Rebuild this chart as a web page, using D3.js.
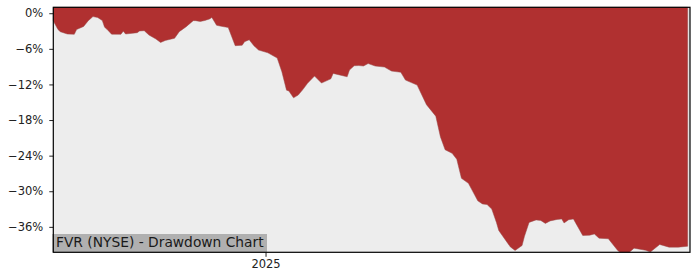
<!DOCTYPE html>
<html>
<head>
	<meta charset="utf-8">
	<title>FVR Drawdown</title>
	<script src="https://d3js.org/d3.v7.min.js"></script>
	<style>
		body { margin: 0; background: white; }
		svg { display: block; font-family: "DejaVu Sans", sans-serif; }
	</style>
</head>
<body>
	<script>
		// Drawdown readings (date, % below running peak)
		var dates = [
			"2024-10-02","2024-10-04","2024-10-05","2024-10-08","2024-10-11","2024-10-12","2024-10-15","2024-10-17",
			"2024-10-19","2024-10-21","2024-10-23","2024-10-24","2024-10-25","2024-10-27","2024-10-31","2024-11-01",
			"2024-11-02","2024-11-07","2024-11-08","2024-11-10","2024-11-12","2024-11-15","2024-11-17","2024-11-19",
			"2024-11-23","2024-11-25","2024-11-28","2024-12-01","2024-12-02","2024-12-04","2024-12-06","2024-12-08",
			"2024-12-09","2024-12-11","2024-12-13","2024-12-16","2024-12-19","2024-12-22","2024-12-23","2024-12-25",
			"2024-12-27","2024-12-29","2025-01-02","2025-01-06","2025-01-08","2025-01-10","2025-01-11","2025-01-13",
			"2025-01-15","2025-01-17","2025-01-19","2025-01-22","2025-01-25","2025-01-29","2025-01-30","2025-02-05",
			"2025-02-06","2025-02-08","2025-02-10","2025-02-12","2025-02-14","2025-02-17","2025-02-21","2025-02-24",
			"2025-02-28","2025-03-02","2025-03-07","2025-03-11","2025-03-15","2025-03-17","2025-03-19","2025-03-22",
			"2025-03-24","2025-03-26","2025-03-29","2025-04-02","2025-04-04","2025-04-06","2025-04-08","2025-04-10",
			"2025-04-11","2025-04-14","2025-04-16","2025-04-18","2025-04-21","2025-04-22","2025-04-24","2025-04-27",
			"2025-04-29","2025-05-01","2025-05-03","2025-05-06","2025-05-08","2025-05-09","2025-05-11","2025-05-13",
			"2025-05-17","2025-05-20","2025-05-22","2025-05-24","2025-05-28","2025-06-01","2025-06-02","2025-06-06",
			"2025-06-08","2025-06-13","2025-06-15","2025-06-19","2025-06-23","2025-06-27","2025-07-01"
		];
		var drawdown = [
			-1.30,-2.74,-3.11,-3.50,-3.55,-2.74,-2.23,-1.25,
			-0.57,-0.71,-1.22,-2.36,-2.70,-3.53,-3.55,-3.02,
			-3.50,-3.28,-2.99,-2.94,-3.67,-4.34,-4.93,-4.59,
			-4.22,-3.11,-2.26,-1.25,-1.25,-1.39,-1.22,-0.96,
			-0.71,-2.03,-2.20,-2.40,-5.47,-5.39,-4.80,-4.48,
			-5.47,-6.20,-6.67,-7.55,-9.86,-12.96,-13.10,-14.26,
			-13.80,-12.87,-11.82,-10.59,-11.77,-11.06,-10.14,-10.71,
			-9.58,-8.85,-8.82,-8.90,-8.48,-8.90,-9.07,-9.75,
			-9.95,-11.27,-12.11,-15.41,-17.35,-20.84,-23.01,-23.60,
			-24.61,-27.82,-28.67,-31.62,-32.13,-32.25,-33.01,-35.25,
			-36.61,-38.29,-39.39,-39.98,-39.14,-37.62,-35.25,-34.83,
			-34.92,-35.42,-35.00,-34.75,-34.66,-35.34,-34.80,-34.66,
			-37.45,-37.40,-37.20,-37.91,-38.01,-39.98,-40.29,-40.29,
			-39.59,-39.95,-40.24,-38.97,-39.42,-39.42,-39.27
		];
		var yTicks = [0, -6, -12, -18, -24, -30, -36];
		var xTicks = ["2025-01-01"];
		var xDomain = ["2024-10-02", "2025-07-02"];
		var title = "FVR (NYSE) - Drawdown Chart";

		var width = 700, height = 280;
		var mLeft = 53.3, mRight = 690, mTop = 7.3, mBottom = 252.3;

		var parse = d3.timeParse("%Y-%m-%d");
		var data = dates.map(function(d, i) { return { date: parse(d), dd: drawdown[i] }; });

		var svg = d3.select("body").append("svg")
			.attr("width", width)
			.attr("height", height);

		var x = d3.scaleTime()
			.domain(xDomain.map(parse))
			.range([mLeft, mRight]);

		var y = d3.scaleLinear()
			.domain([d3.min(drawdown), 1])
			.range([mBottom, mTop]);

		// plot background
		svg.append("rect")
			.attr("x", mLeft).attr("y", mTop)
			.attr("width", mRight - mLeft).attr("height", mBottom - mTop)
			.attr("fill", "#ededed");

		// red area from the top of the plot down to the drawdown curve
		var area = d3.area()
			.x(function(d) { return x(d.date); })
			.y0(y(1))
			.y1(function(d) { return y(d.dd); });

		svg.append("path")
			.datum(data)
			.attr("d", area)
			.attr("fill", "#b03030")
			.attr("stroke", "#9a4a4a")
			.attr("stroke-width", 0.5);

		// axes
		var yAxis = d3.axisLeft(y)
			.tickValues(yTicks)
			.tickFormat(function(d) { return (d < 0 ? "\u2212" + (-d) : d) + "%"; })
			.tickSize(4)
			.tickPadding(6);

		var xAxis = d3.axisBottom(x)
			.tickValues(xTicks.map(parse))
			.tickFormat(d3.timeFormat("%Y"))
			.tickSize(4.5)
			.tickPadding(3);

		var gy = svg.append("g")
			.attr("transform", "translate(" + mLeft + ",0)")
			.call(yAxis);
		var gx = svg.append("g")
			.attr("transform", "translate(0," + mBottom + ")")
			.call(xAxis);

		[gx, gy].forEach(function(g) {
			g.select(".domain").remove();
			g.selectAll("text")
				.attr("fill", "#222")
				.style("font-family", "DejaVu Sans")
				.style("font-size", "11.5px");
			g.selectAll("line").attr("stroke", "#222");
		});

		// title box in the lower-left corner
		var tb = svg.append("g");
		tb.append("rect")
			.attr("x", mLeft - 1)
			.attr("y", 234)
			.attr("width", 267 - mLeft + 1)
			.attr("height", mBottom - 234)
			.attr("fill", "#b0b0b0");
		tb.append("text")
			.attr("x", 56)
			.attr("y", 246.8)
			.attr("fill", "#1a1a1a")
			.style("font-size", "13.8px")
			.text(title);

		// frame
		svg.append("rect")
			.attr("x", mLeft).attr("y", mTop)
			.attr("width", mRight - mLeft).attr("height", mBottom - mTop)
			.attr("fill", "none")
			.attr("stroke", "#000")
			.attr("stroke-width", 1.2);
	</script>
</body>
</html>
